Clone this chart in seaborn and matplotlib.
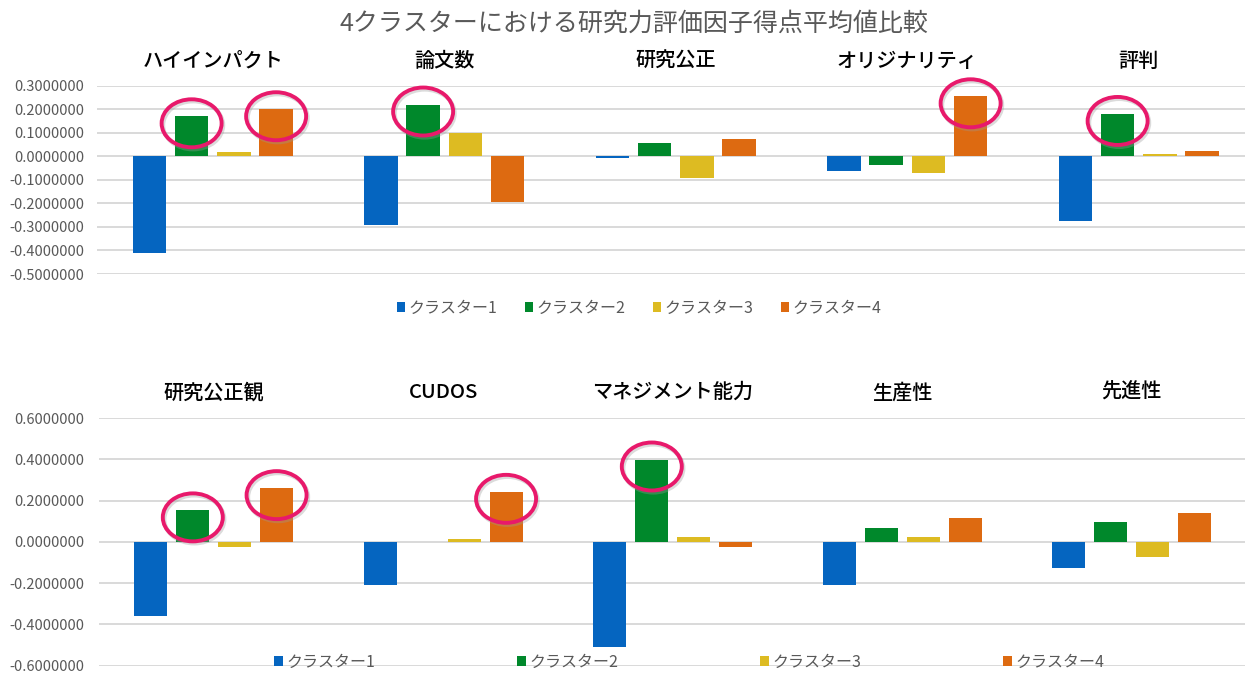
import pandas as pd
import matplotlib.pyplot as plt
import matplotlib.transforms as mtransforms
from matplotlib.patches import Ellipse
from matplotlib.ticker import FormatStrFormatter, MultipleLocator
import seaborn as sns

# Data
clusters = ["クラスター1", "クラスター2", "クラスター3", "クラスター4"]
colors = ["#0565C0", "#00882B", "#DDBB22", "#DD6A11"]

top_factors = ["ハイインパクト", "論文数", "研究公正", "オリジナリティ", "評判"]
top_c1 = [-0.410, -0.290, -0.008, -0.064, -0.275]
top_c2 = [0.170, 0.220, 0.058, -0.036, 0.180]
top_c3 = [0.017, 0.100, -0.092, -0.070, 0.008]
top_c4 = [0.200, -0.195, 0.075, 0.255, 0.021]

bot_factors = ["研究公正観", "CUDOS", "マネジメント能力", "生産性", "先進性"]
bot_c1 = [-0.358, -0.209, -0.510, -0.209, -0.129]
bot_c2 = [0.153, 0.000, 0.400, 0.069, 0.099]
bot_c3 = [-0.027, 0.013, 0.022, 0.022, -0.075]
bot_c4 = [0.261, 0.243, -0.024, 0.117, 0.138]

# circled bars: (factor, cluster)
top_marked = [("ハイインパクト", "クラスター2"), ("ハイインパクト", "クラスター4"),
              ("論文数", "クラスター2"), ("オリジナリティ", "クラスター4"),
              ("評判", "クラスター2")]
bot_marked = [("研究公正観", "クラスター2"), ("研究公正観", "クラスター4"),
              ("CUDOS", "クラスター4"), ("マネジメント能力", "クラスター2")]


def to_long(factors, series):
    rows = []
    for cl, vals in zip(clusters, series):
        for f, v in zip(factors, vals):
            rows.append({"factor": f, "cluster": cl, "value": v})
    return pd.DataFrame(rows)


top_df = to_long(top_factors, [top_c1, top_c2, top_c3, top_c4])
bot_df = to_long(bot_factors, [bot_c1, bot_c2, bot_c3, bot_c4])

sns.set_style("white")
plt.rcParams["font.family"] = ["Noto Sans CJK JP", "DejaVu Sans"]

GRAY = "#595959"
PINK = "#E8196B"

fig = plt.figure(figsize=(12.45, 6.74), dpi=100)
ax1 = fig.add_axes([97 / 1245, 1 - 274 / 674, 1157.5 / 1245, 188.3 / 674])
ax2 = fig.add_axes([99 / 1245, 1 - 665.5 / 674, 1147.5 / 1245, 247.2 / 674])


def draw(ax, df, factors, marked, ylim, step, label_y, pad):
    sns.barplot(data=df, x="factor", y="value", hue="cluster", order=factors,
                hue_order=clusters, palette=colors, saturation=1, width=0.73,
                gap=0.21, errorbar=None, linewidth=0, legend=False, ax=ax)
    ax.set_ylim(*ylim)
    ax.set_xlim(-0.5, 4.5)
    ax.yaxis.set_major_locator(MultipleLocator(step))
    ax.yaxis.set_major_formatter(FormatStrFormatter("%.7f"))
    ax.yaxis.grid(True, color="#D9D9D9", linewidth=1.4)
    ax.set_axisbelow(True)
    for s in ax.spines.values():
        s.set_visible(False)
    ax.set_xticks([])
    ax.set_xlabel("")
    ax.set_ylabel("")
    ax.tick_params(axis="y", length=0, pad=pad, labelsize=10.5, labelcolor=GRAY)
    trans = mtransforms.blended_transform_factory(ax.transData, ax.transAxes)
    for i, f in enumerate(factors):
        ax.text(i, label_y, f, transform=trans, ha="center", va="center",
                fontsize=14.5, color="black", fontweight="medium")
    for f, cl in marked:
        p = ax.containers[clusters.index(cl)][factors.index(f)]
        x = p.get_x() + p.get_width() / 2
        y = p.get_y() + p.get_height()
        base = fig.dpi_scale_trans + mtransforms.ScaledTranslation(x, y, ax.transData)
        shadow = Ellipse((0.015, -0.09), 0.60, 0.48, fill=False, edgecolor="#999999",
                         linewidth=3.0, alpha=0.35, transform=base, clip_on=False)
        ring = Ellipse((0, -0.07), 0.60, 0.48, fill=False, edgecolor=PINK,
                       linewidth=2.8, transform=base, clip_on=False)
        ax.add_patch(shadow)
        ax.add_patch(ring)


draw(ax1, top_df, top_factors, top_marked, (-0.5, 0.3), 0.1, 1.131, 9)
draw(ax2, bot_df, bot_factors, bot_marked, (-0.6, 0.6), 0.2, 1.105, 10.5)

fig.text(634 / 1245, 1 - 24 / 674, "4クラスターにおける研究力評価因子得点平均値比較",
         ha="center", va="center", fontsize=18, color=GRAY)

fig.legend([h[0] for h in ax1.containers], clusters, loc="center",
           bbox_to_anchor=(639 / 1245, 1 - 308 / 674), ncol=4, frameon=False,
           fontsize=11.5, labelcolor=GRAY, handlelength=0.55, handleheight=0.55,
           handletextpad=0.2, columnspacing=1.7)
fig.legend([h[0] for h in ax2.containers], clusters, loc="center",
           bbox_to_anchor=(689 / 1245, 1 - 662 / 674), ncol=4, frameon=False,
           fontsize=11.5, labelcolor=GRAY, handlelength=0.55, handleheight=0.55,
           handletextpad=0.2, columnspacing=8.9)

fig.savefig("out.png", dpi=100)
